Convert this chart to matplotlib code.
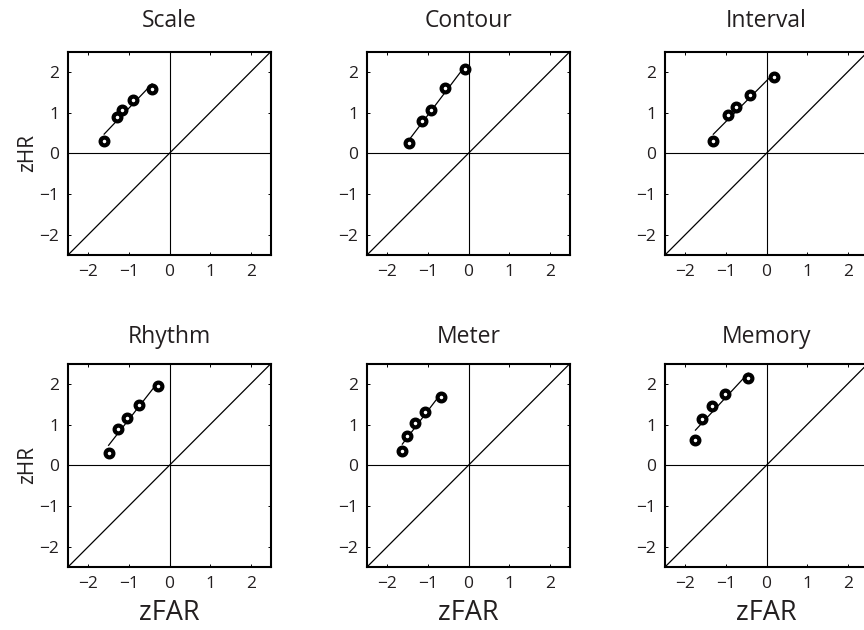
import numpy as np
import matplotlib
matplotlib.use("Agg")
import matplotlib.pyplot as plt

plt.rcParams['font.family'] = ['Open Sans', 'DejaVu Sans']
TXT = '#231f20'

titles = ["Scale", "Contour", "Interval", "Rhythm", "Meter", "Memory"]
zfar = [
    [-1.61, -1.30, -1.17, -0.90, -0.43],
    [-1.47, -1.14, -0.92, -0.57, -0.08],
    [-1.31, -0.96, -0.75, -0.41, 0.19],
    [-1.50, -1.28, -1.05, -0.75, -0.29],
    [-1.63, -1.52, -1.33, -1.08, -0.67],
    [-1.75, -1.60, -1.35, -1.01, -0.45],
]
zhr = [
    [0.29, 0.88, 1.06, 1.30, 1.58],
    [0.25, 0.79, 1.06, 1.60, 2.07],
    [0.29, 0.93, 1.14, 1.42, 1.87],
    [0.30, 0.90, 1.17, 1.49, 1.94],
    [0.35, 0.71, 1.05, 1.31, 1.68],
    [0.61, 1.14, 1.46, 1.74, 2.15],
]
ticks = [-2, -1, 0, 1, 2]
tick_labels = ["\u22122", "\u22121", "0", "1", "2"]

W, H = 864, 630
fig = plt.figure(figsize=(W / 100, H / 100), dpi=100)
lefts = [68, 367, 665]
tops = [51.5, 363.5]
aw, ah = 203, 203.5
title_pads = [17.5, 15]

for i, t in enumerate(titles):
    r, c = divmod(i, 3)
    ax = fig.add_axes([lefts[c] / W, 1 - (tops[r] + ah) / H, aw / W, ah / H])
    ax.set_xlim(-2.5, 2.5)
    ax.set_ylim(-2.5, 2.5)
    ax.axhline(0, color='black', lw=0.8)
    ax.axvline(0, color='black', lw=0.8)
    ax.plot([-2.5, 2.5], [-2.5, 2.5], color='black', lw=0.9)
    x = np.array(zfar[i]); y = np.array(zhr[i])
    p = np.polyfit(x, y, 1)
    xx = np.array([x.min(), x.max()])
    ax.plot(xx, np.polyval(p, xx), color='black', lw=0.9)
    ax.plot(x, y, 'o', ms=5.6, mfc='white', mec='black', mew=3.0, zorder=5)
    ax.set_xticks(ticks)
    ax.set_yticks(ticks)
    ax.set_xticklabels(tick_labels)
    ax.set_yticklabels(tick_labels)
    ax.tick_params(direction='in', top=True, right=True, length=2.5, width=0.7,
                   labelsize=12.5, pad=6.5, labelcolor=TXT)
    for s in ax.spines.values():
        s.set_linewidth(1.5)
    ax.set_title(t, fontsize=16.5, pad=title_pads[r], color=TXT)
    if c == 0:
        ax.set_ylabel("zHR", fontsize=15, labelpad=1, color=TXT)
    if r == 1:
        ax.set_xlabel("zFAR", fontsize=19.5, labelpad=5, color=TXT)

fig.savefig("out.png", dpi=100)
